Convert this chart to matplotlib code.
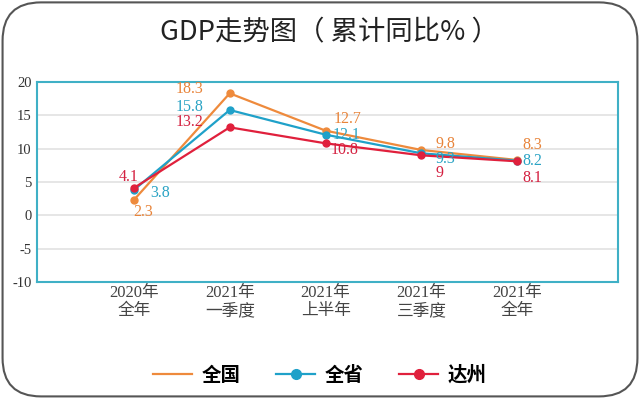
import matplotlib
matplotlib.use("Agg")
import matplotlib.pyplot as plt
from matplotlib.patches import FancyBboxPatch
from matplotlib.lines import Line2D

categories = ["2020年\n全年", "2021年\n一季度", "2021年\n上半年", "2021年\n三季度", "2021年\n全年"]
national = [2.3, 18.3, 12.7, 9.8, 8.3]
province = [3.8, 15.8, 12.1, 9.3, 8.2]
dazhou = [4.1, 13.2, 10.8, 9, 8.1]
series_names = ["全国", "全省", "达州"]
yticks = [-10, -5, 0, 5, 10, 15, 20]

c_nat = "#ee8a3c"
c_pro = "#1fa1c9"
c_daz = "#e0203c"
lab_cols = ["#e8843a", "#2aa3c4", "#d42040"]

serif = ["Liberation Serif", "Noto Sans CJK SC"]
cjk = ["Noto Sans CJK SC", "DejaVu Sans"]

fig = plt.figure(figsize=(6.4, 3.98), dpi=100)
fig.patch.set_facecolor("white")
border = FancyBboxPatch((0.004, 0.004), 0.992, 0.99, boxstyle="round,pad=0,rounding_size=0.06",
                        transform=fig.transFigure, facecolor="white", edgecolor="#555555",
                        linewidth=1.5, mutation_aspect=640/398, zorder=-5)
fig.patches.append(border)

fig.text(0.514, 0.918, "GDP走势图（ 累计同比% ）", ha="center", va="center",
         fontsize=19.7, family=cjk, color="#222222")

ax = fig.add_axes([37/640, 1-282/398, (618-37)/640, (282-82)/398])
ax.patch.set_alpha(0)
x = list(range(len(categories)))
for vals, col, name in zip([national, province, dazhou], [c_nat, c_pro, c_daz], series_names):
    ax.plot(x, vals, color=col, lw=1.6, marker="o", ms=5, label=name, zorder=3)

ax.set_ylim(-10, 20)
ax.set_xlim(-1.01, 5.05)
ax.set_yticks(yticks)
ax.set_yticklabels([str(t) for t in yticks], family=serif, fontsize=10.5, color="#333333")
ax.set_xticks(x)
ax.set_xticklabels(categories, family=serif, fontsize=12, color="#444444", linespacing=1.2)
ax.tick_params(length=0, pad=4)
ax.tick_params(axis="x", pad=2)
ax.grid(axis="y", color="#e2e2e2", lw=1.2)
ax.set_axisbelow(True)
for s in ax.spines.values():
    s.set_color("#3fb0c6")
    s.set_linewidth(1.5)

# data labels: offsets in points
offsets = [
    [(6.5, -9), (-29, 3), (16, 8.5), (17, 4.5), (11, 10.5)],  # national
    [(19, -2), (-29, 2), (15, 0), (17, -4), (11, -0.5)],      # province
    [(-4, 8), (-29, 4), (14, -5), (13, -13), (11, -12)],      # dazhou
]
for vals, offs, col in zip([national, province, dazhou], offsets, lab_cols):
    for xi, v, (dx, dy) in zip(x, vals, offs):
        ax.annotate(f"{v:g}", (xi, v), xytext=(dx, dy), textcoords="offset points",
                    ha="center", va="center", fontsize=11.5, family=serif, color=col, zorder=4)

handles = [Line2D([], [], color=c_nat, lw=1.6),
           Line2D([], [], color=c_pro, lw=1.6, marker="o", ms=7),
           Line2D([], [], color=c_daz, lw=1.6, marker="o", ms=7)]
fig.legend(handles, series_names, loc="center", bbox_to_anchor=(0.5, 0.058), ncol=3,
           frameon=False, prop={"family": cjk, "size": 14, "weight": "bold"},
           handlelength=2.0, columnspacing=1.85, handletextpad=0.47)

fig.savefig("out.png", dpi=100, facecolor="white")
